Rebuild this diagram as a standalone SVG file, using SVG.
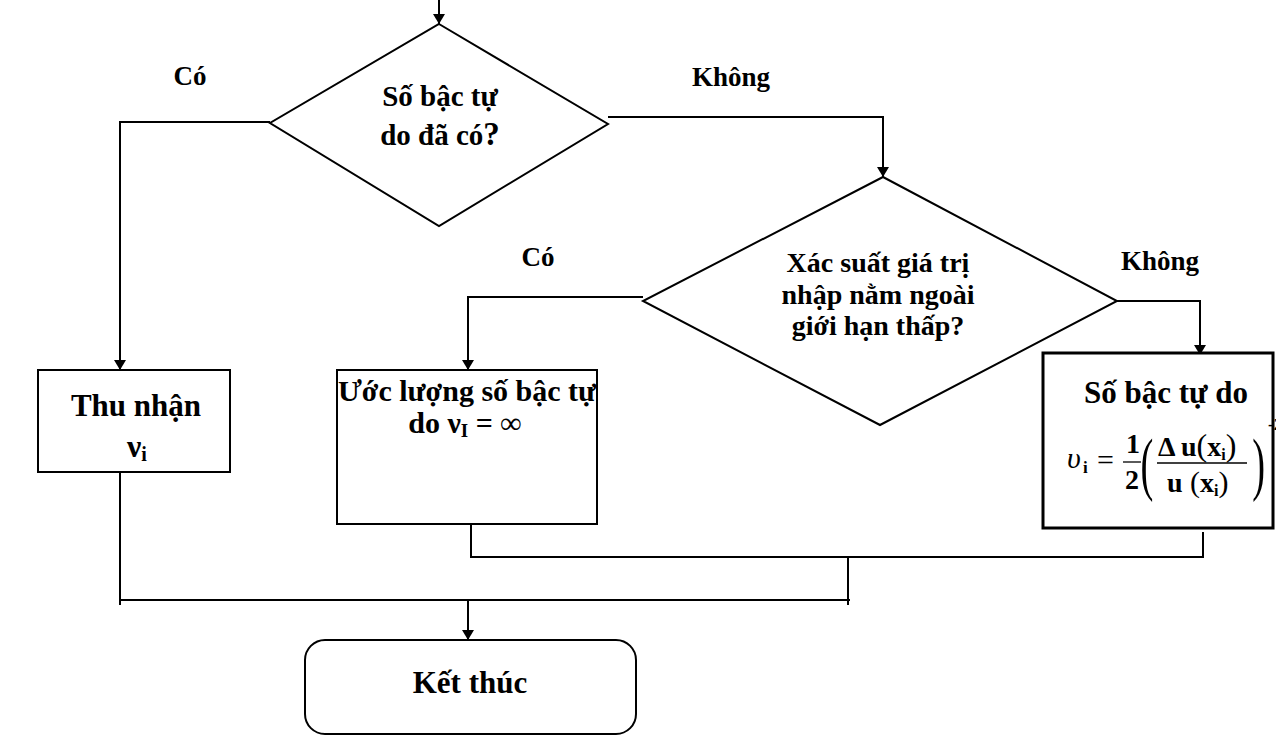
<svg xmlns="http://www.w3.org/2000/svg" width="1276" height="735" viewBox="0 0 1276 735">
  <defs>
    <marker id="arrow" viewBox="0 0 10 14" refX="10" refY="7" markerWidth="10" markerHeight="14" markerUnits="userSpaceOnUse" orient="auto">
      <path d="M0,1 L10,7 L0,13 Z" fill="#000"/>
    </marker>
    <style>
      .ln { fill: none; stroke: #000; stroke-width: 2; }
      .arr { fill: none; stroke: #000; stroke-width: 2; marker-end: url(#arrow); }
      .shape { fill: #fff; stroke: #000; stroke-width: 2; }
      .thick { fill: #fff; stroke: #000; stroke-width: 3; }
      .t { font-family: "Liberation Serif", "Times New Roman", serif; font-weight: bold; fill: #000; text-anchor: middle; }
      .lbl { font-size: 27px; }
      .body { font-size: 28px; }
      .big { font-size: 31px; }
      .m { font-family: "Liberation Serif", "Times New Roman", serif; fill: #000; }
      .bar { stroke: #000; stroke-width: 1.3; }
    </style>
  </defs>
  <rect width="1276" height="735" fill="#fff"/>

  <!-- connectors -->
  <g id="connectors">
    <path class="arr" d="M439,0 V24"/>
    <path class="arr" d="M270,122 H120 V370"/>
    <path class="arr" d="M608,117 H883 V177"/>
    <path class="arr" d="M643,297 H468 V370"/>
    <path class="arr" d="M1117,301 H1200 V355"/>
    <path class="ln" d="M120,472 V605"/>
    <path class="ln" d="M471,524 V557 H1203 V532"/>
    <path class="ln" d="M848,557 V605"/>
    <path class="ln" d="M120,600 H850"/>
    <path class="arr" d="M468,600 V640"/>
  </g>

  <!-- branch labels -->
  <g id="labels">
    <text class="t lbl" x="190" y="85">Có</text>
    <text class="t lbl" x="731" y="86">Không</text>
    <text class="t lbl" x="538" y="266">Có</text>
    <text class="t lbl" x="1160" y="270">Không</text>
  </g>

  <!-- decision: degrees of freedom known? -->
  <g id="decision-dof">
    <polygon class="shape" points="439,24 608,124 439,226 270,123"/>
    <text class="t" font-size="29" x="440" y="106">Số bậc tự</text>
    <text class="t" font-size="29" x="440" y="145">do đã có<tspan font-size="33">?</tspan></text>
  </g>

  <!-- decision: probability outside lower limit? -->
  <g id="decision-prob">
    <polygon class="shape" points="883,177 1117,301 880,425 643,301"/>
    <text class="t body" x="878" y="272">Xác suất giá trị</text>
    <text class="t body" x="878" y="304">nhập nằm ngoài</text>
    <text class="t body" x="878" y="335">giới hạn thấp?</text>
  </g>

  <!-- process: take nu_i -->
  <g id="take-nu">
    <rect class="shape" x="38" y="370" width="192" height="102"/>
    <text class="t big" x="136" y="416">Thu nhận</text>
    <text class="t" font-size="32" x="137" y="457">ν<tspan font-size="20" dy="4">i</tspan></text>
  </g>

  <!-- process: estimate infinite dof -->
  <g id="estimate-inf">
    <rect class="shape" x="337" y="370" width="260" height="154"/>
    <text class="t" font-size="30" x="467" y="401">Ước lượng số bậc tự</text>
    <text class="t" font-size="30" x="465" y="433">do ν<tspan font-size="19" dy="4">I</tspan><tspan dy="-4"> = ∞</tspan></text>
  </g>

  <!-- process: compute dof -->
  <g id="compute-dof">
    <rect class="thick" x="1043" y="353" width="230" height="175"/>
    <text class="t big" x="1166" y="403">Số bậc tự do</text>
    <text class="m" x="1067" y="468" font-size="30" font-style="italic">υ</text>
    <text class="m" x="1083" y="473" font-size="17" font-weight="bold">i</text>
    <text class="m" x="1097" y="470" font-size="30">=</text>
    <text class="m" x="1126" y="453" font-size="28" font-weight="bold">1</text>
    <line class="bar" x1="1123" y1="462" x2="1141" y2="462"/>
    <text class="m" x="1125" y="489" font-size="28" font-weight="bold">2</text>
    <text class="m" x="1137" y="487" font-size="70" transform="translate(1145,460) scale(0.55,1) translate(-1145,-460)">(</text>
    <text class="m" x="1158" y="456" font-size="28" font-weight="bold">Δ u<tspan font-weight="normal" font-size="32">(</tspan>x<tspan font-size="16" dy="4">i</tspan><tspan dy="-4" font-weight="normal" font-size="32">)</tspan></text>
    <line class="bar" x1="1157" y1="463" x2="1247" y2="463"/>
    <text class="m" x="1167" y="492" font-size="28" font-weight="bold">u<tspan font-weight="normal" font-size="30"> (</tspan>x<tspan font-size="16" dy="4">i</tspan><tspan dy="-4" font-weight="normal" font-size="30">)</tspan></text>
    <text class="m" x="1249" y="487" font-size="70" transform="translate(1256,460) scale(0.55,1) translate(-1256,-460)">)</text>
    <text class="m" x="1268" y="430" font-size="17" font-weight="bold">-2</text>
  </g>

  <!-- terminator -->
  <g id="end">
    <rect class="shape" x="305" y="640" width="331" height="94" rx="20" ry="20"/>
    <text class="t big" x="470" y="693">Kết thúc</text>
  </g>
</svg>
